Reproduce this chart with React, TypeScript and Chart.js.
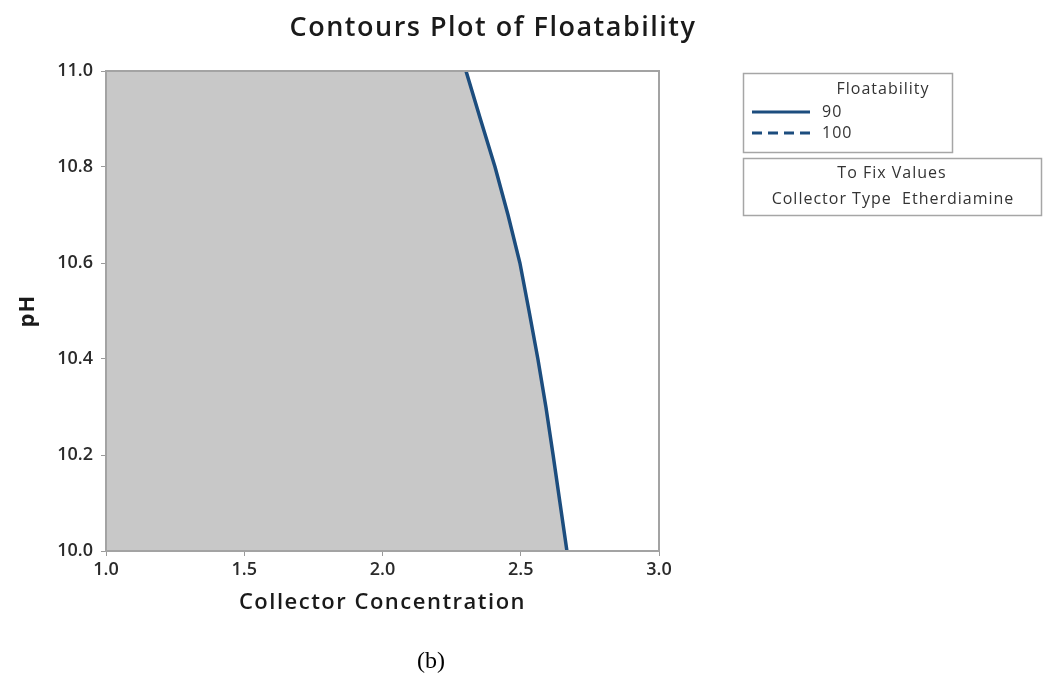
import React, { useEffect, useRef } from "react";
import { Chart, registerables } from "chart.js";

Chart.register(...registerables);

// pH levels along the contour, top to bottom
const phLevels = [11.0, 10.9, 10.8, 10.7, 10.6, 10.5, 10.4, 10.3, 10.2, 10.1, 10.0];
// Collector concentration where floatability = 90 at each pH level
const contour90 = [2.302, 2.354, 2.407, 2.454, 2.497, 2.53, 2.562, 2.591, 2.617, 2.642, 2.667];
const xMin = 1.0;
const xMax = 3.0;
const yMin = 10.0;
const yMax = 11.0;
const legendLevels = ["90", "100"];
const fixedFactor = "Collector Type";
const fixedValue = "Etherdiamine";

const LINE_COLOR = "#1c4d7e";
const FILL_COLOR = "#c8c8c8";
const UI_FONT = "'Open Sans', 'Noto Sans', sans-serif";

const overlay = {
  id: "overlay",
  afterDatasetsDraw(chart: any) {
    const { ctx, chartArea } = chart;
    ctx.save();
    // plot frame
    ctx.strokeStyle = "#a3a3a3";
    ctx.lineWidth = 2;
    ctx.strokeRect(chartArea.left, chartArea.top, chartArea.right - chartArea.left, chartArea.bottom - chartArea.top);
    ctx.restore();
  },
  afterDraw(chart: any) {
    const { ctx, chartArea } = chart;
    ctx.save();
    ctx.fillStyle = "#1a1a1a";
    ctx.textAlign = "center";
    ctx.textBaseline = "middle";

    // main title
    ctx.font = `600 27px ${UI_FONT}`;
    ctx.letterSpacing = "1.5px";
    ctx.fillText("Contours Plot of Floatability", 493, 28);

    // axis titles
    ctx.font = `600 22px ${UI_FONT}`;
    ctx.letterSpacing = "1.5px";
    ctx.fillText("Collector Concentration", (chartArea.left + chartArea.right) / 2, 603);
    ctx.save();
    ctx.translate(28, (chartArea.top + chartArea.bottom) / 2);
    ctx.rotate(-Math.PI / 2);
    ctx.font = `bold 22px ${UI_FONT}`;
    ctx.letterSpacing = "1px";
    ctx.fillText("pH", 0, 0);
    ctx.restore();

    // legend box for contour levels
    ctx.strokeStyle = "#a6a6a6";
    ctx.lineWidth = 1.5;
    ctx.strokeRect(743.5, 73.5, 209, 79);
    ctx.fillStyle = "#333";
    ctx.font = `16px ${UI_FONT}`;
    ctx.letterSpacing = "1px";
    ctx.fillText("Floatability", 883, 89);
    ctx.textAlign = "left";
    legendLevels.forEach((lbl, i) => {
      const y = 112 + i * 21;
      ctx.save();
      ctx.strokeStyle = LINE_COLOR;
      ctx.lineWidth = 3;
      ctx.setLineDash(i === 0 ? [] : [10, 6]);
      ctx.beginPath();
      ctx.moveTo(752, y);
      ctx.lineTo(810, y);
      ctx.stroke();
      ctx.restore();
      ctx.fillText(lbl, 822, y);
    });

    // fixed values box
    ctx.strokeStyle = "#a6a6a6";
    ctx.strokeRect(743.5, 158.5, 298, 57);
    ctx.textAlign = "center";
    ctx.fillText("To Fix Values", 892, 173);
    ctx.fillText(`${fixedFactor}  ${fixedValue}`, 893, 199);

    // caption
    ctx.letterSpacing = "0px";
    ctx.fillStyle = "#000";
    ctx.font = "24px 'Liberation Serif', 'Times New Roman', serif";
    ctx.fillText("(b)", 431, 662);
    ctx.restore();
  },
};

export default function App() {
  const canvasRef = useRef<HTMLCanvasElement | null>(null);

  useEffect(() => {
    const canvas = canvasRef.current;
    if (!canvas) return;

    const curve = phLevels.map((ph, i) => ({ x: contour90[i], y: ph }));
    const region = [{ x: xMin, y: yMax }, ...curve, { x: xMin, y: yMin }];

    const tickFont = { family: UI_FONT, size: 18, weight: 600 as any };

    const chart = new Chart(canvas, {
      type: "scatter",
      data: {
        datasets: [
          {
            // contour line, drawn above the shaded region
            label: "90",
            data: curve,
            showLine: true,
            fill: false,
            borderColor: LINE_COLOR,
            borderWidth: 3.5,
            pointRadius: 0,
            tension: 0,
          },
          {
            label: "region",
            data: region,
            showLine: true,
            fill: "shape",
            backgroundColor: FILL_COLOR,
            borderWidth: 0,
            pointRadius: 0,
            tension: 0,
          },
        ],
      },
      options: {
        responsive: false,
        animation: false,
        layout: { padding: { left: 0, top: 71, right: 1046 - 659, bottom: 682 - 551 - 32 } },
        plugins: {
          legend: { display: false },
          title: { display: false },
          tooltip: { enabled: false },
        },
        scales: {
          x: {
            type: "linear",
            min: xMin,
            max: xMax,
            border: { display: false },
            grid: { drawOnChartArea: false, drawTicks: true, tickLength: 5, color: "#9a9a9a" },
            ticks: {
              stepSize: 0.5,
              padding: 3,
              color: "#2a2a2a",
              font: tickFont,
              callback: (v: any) => Number(v).toFixed(1),
            },
            afterFit: (scale: any) => {
              scale.height = 32;
            },
          },
          y: {
            type: "linear",
            min: yMin,
            max: yMax,
            border: { display: false },
            grid: { drawOnChartArea: false, drawTicks: true, tickLength: 5, color: "#9a9a9a" },
            ticks: {
              stepSize: 0.2,
              padding: 8,
              color: "#2a2a2a",
              font: tickFont,
              callback: (v: any) => Number(v).toFixed(1),
            },
            afterFit: (scale: any) => {
              scale.width = 106;
            },
          },
        },
      },
      plugins: [overlay],
    });

    return () => chart.destroy();
  }, []);

  return (
    <div style={{ position: "absolute", left: 0, top: 0, width: 1046, height: 682, background: "#fff" }}>
      <canvas ref={canvasRef} width={1046} height={682} style={{ display: "block" }} />
    </div>
  );
}
